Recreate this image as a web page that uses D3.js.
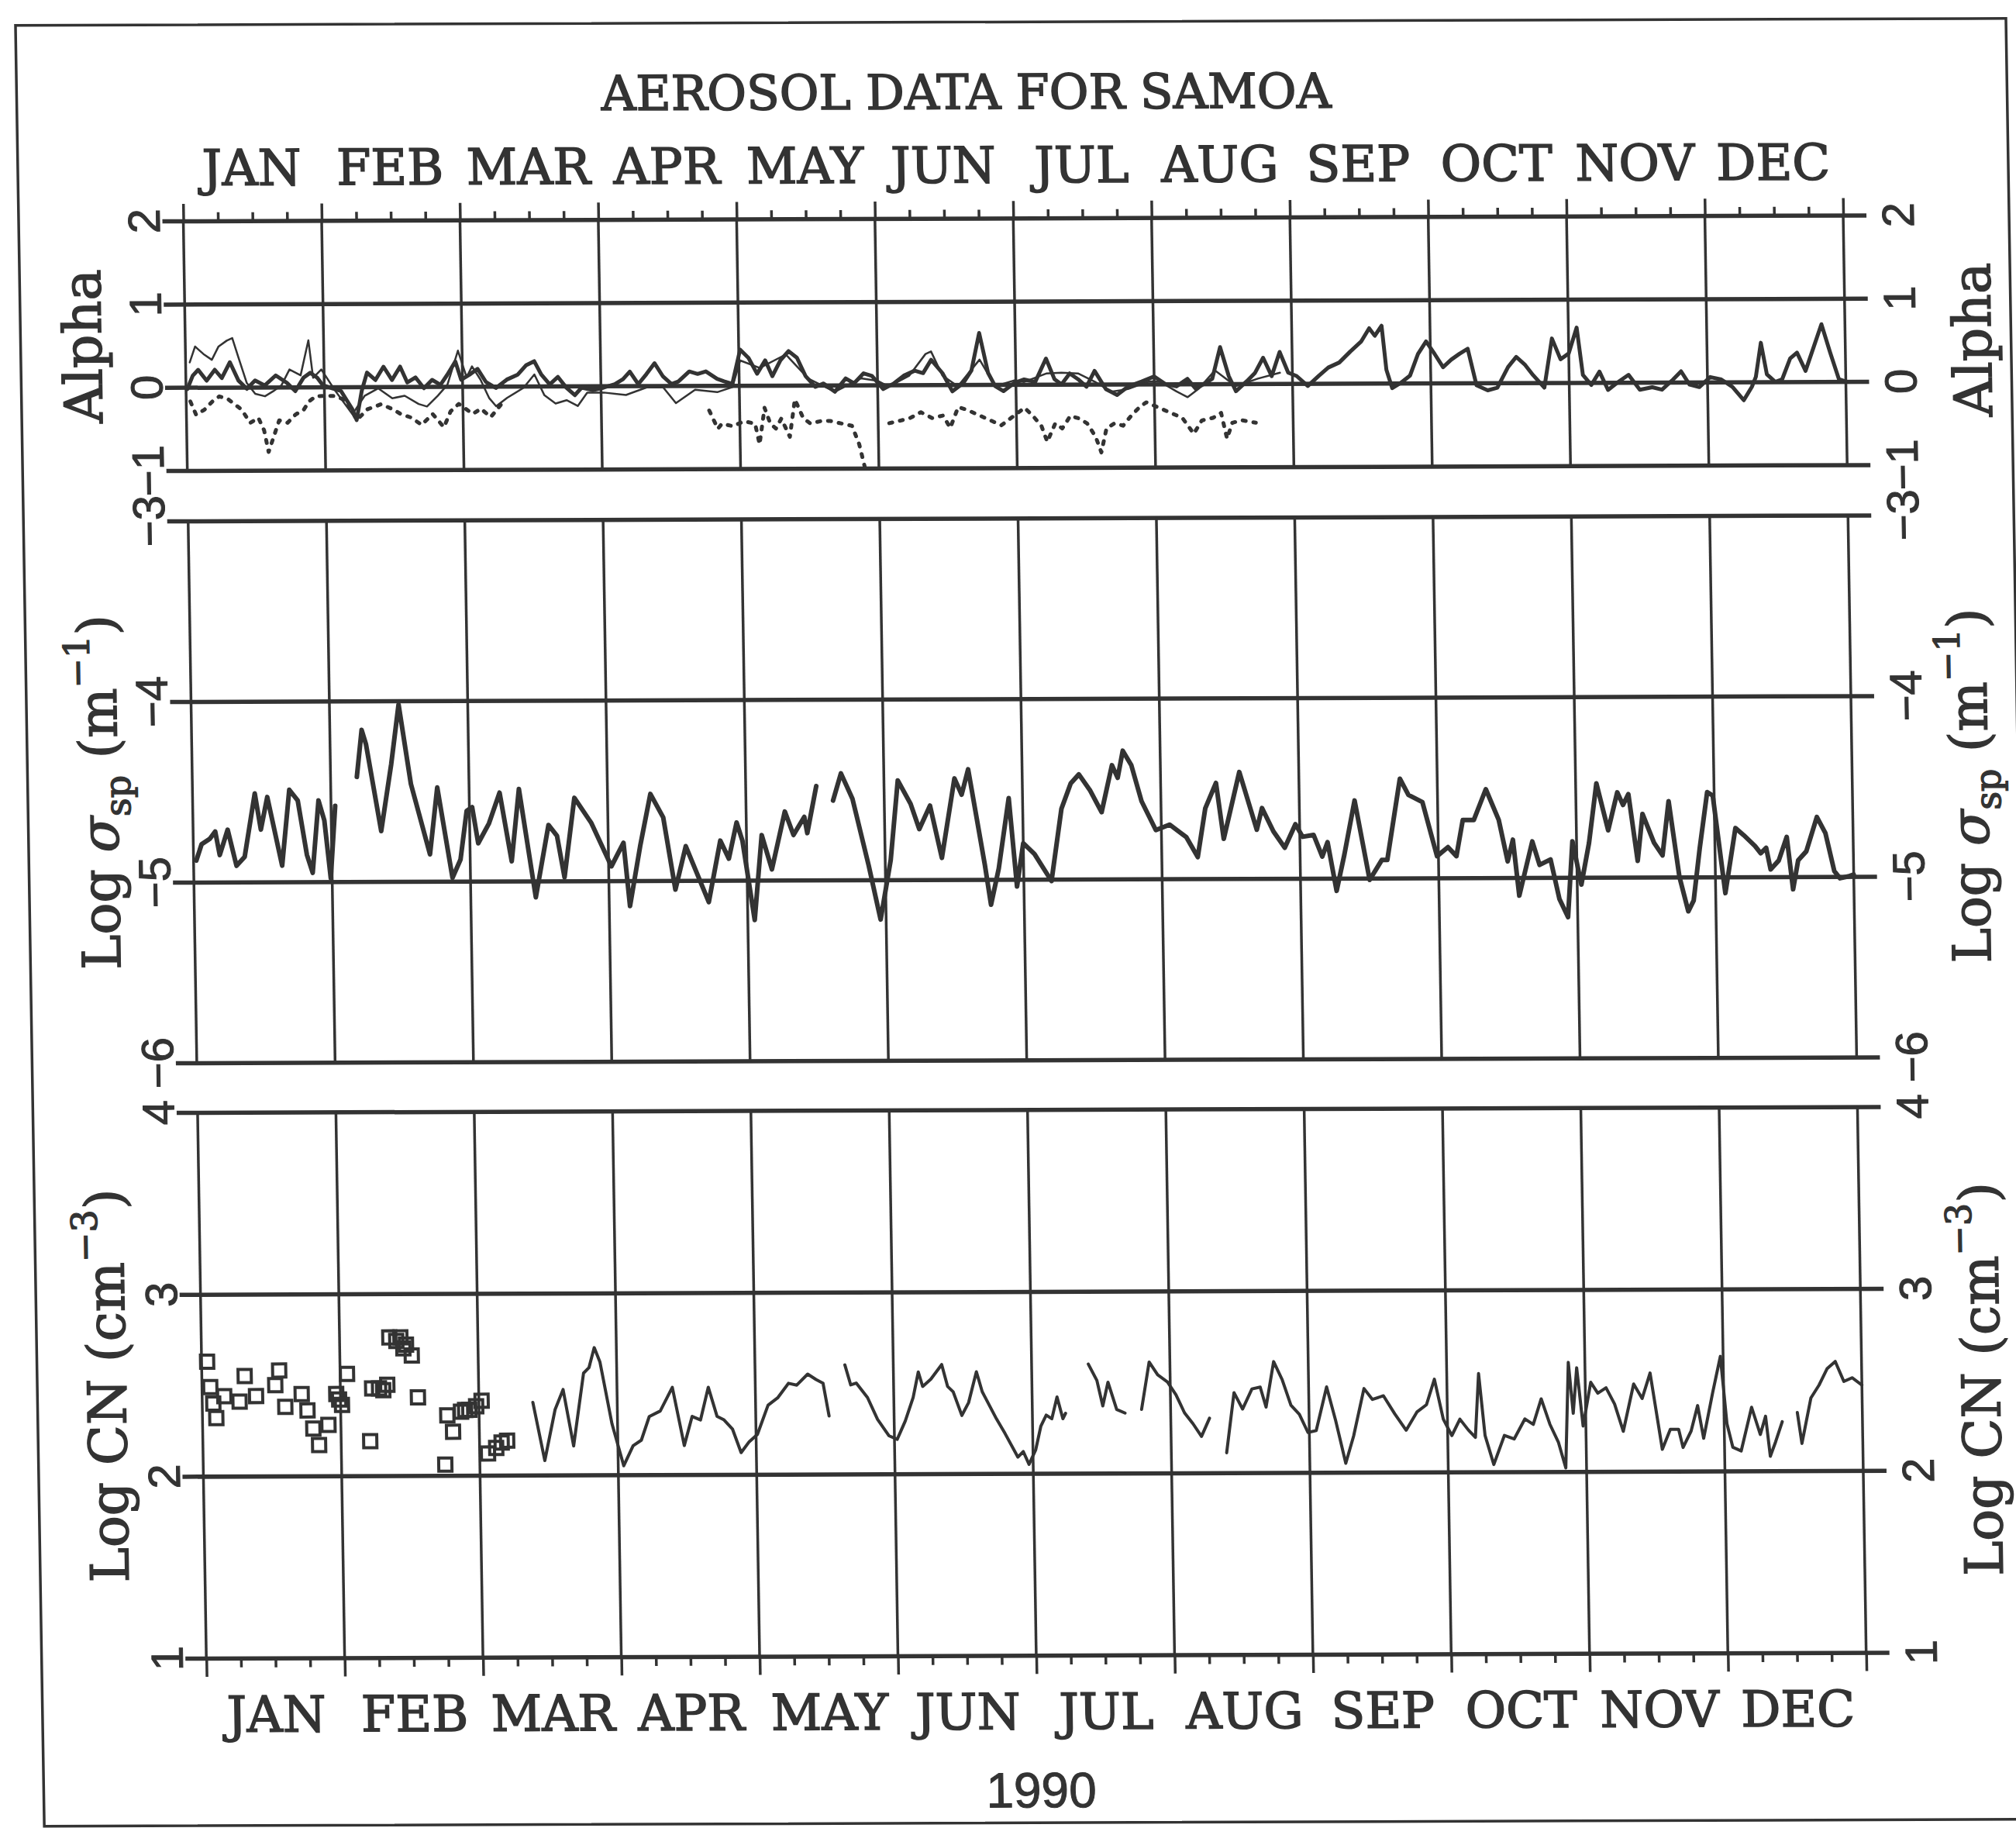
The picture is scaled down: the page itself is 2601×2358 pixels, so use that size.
<!DOCTYPE html>
<html>
<head>
<meta charset="utf-8">
<script src="https://cdn.jsdelivr.net/npm/d3@7"></script>
<style>
  body { margin: 0; background: #fff; }
  svg { display: block; }
</style>
</head>
<body>
<svg width="2601" height="2358"></svg>
<script>
// ---- data (time in months from 1 Jan 1990, value) ----
const months = ["JAN","FEB","MAR","APR","MAY","JUN","JUL","AUG","SEP","OCT","NOV","DEC"];
const yearLabel = "1990";
const title = "AEROSOL DATA FOR SAMOA";
const alphaTicks = [-1, 0, 1, 2];
const sigmaTicks = [-6, -5, -4, -3];
const cnTicks = [1, 2, 3, 4];

// alpha, main solid trace
const alphaSolid = [
 [0.01,-0.02],[0.05,0.14],[0.09,0.21],[0.15,0.08],[0.21,0.21],[0.26,0.11],[0.32,0.30],[0.38,0.08],[0.44,-0.02],[0.50,0.08],[0.57,0.02],[0.65,0.14],[0.73,0.05],[0.79,-0.05],[0.85,0.11],[0.90,0.17],[0.95,0.11],[0.99,0.02],
 [1.06,-0.02],[1.12,-0.05],[1.20,-0.27],[1.23,-0.40],[1.27,-0.05],[1.31,0.17],[1.37,0.08],[1.43,0.24],[1.49,0.08],[1.55,0.24],[1.60,0.05],[1.66,0.11],[1.72,-0.02],[1.78,0.08],[1.84,0.02],[1.89,0.14],[1.95,0.30],[1.99,0.08],
 [2.05,0.14],[2.11,0.21],[2.17,0.05],[2.24,-0.02],[2.32,0.08],[2.40,0.14],[2.46,0.25],[2.52,0.30],[2.57,0.14],[2.63,0.02],[2.69,0.11],[2.75,-0.02],[2.81,-0.11],[2.86,-0.02],[2.94,-0.05],
 [3.02,-0.02],[3.10,0.02],[3.16,0.08],[3.21,0.17],[3.27,0.02],[3.33,0.14],[3.39,0.27],[3.45,0.11],[3.51,0.02],[3.56,0.05],[3.64,0.17],[3.70,0.14],[3.76,0.17],[3.84,0.08],[3.89,0.05],[3.95,0.02],
 [4.01,0.43],[4.07,0.33],[4.13,0.14],[4.19,0.30],[4.24,0.11],[4.30,0.30],[4.36,0.41],[4.42,0.33],[4.48,0.11],[4.55,-0.02],[4.61,0.02],[4.69,-0.08],[4.77,0.08],[4.83,0.02],[4.90,0.14],[4.96,0.11],
 [5.04,-0.05],[5.12,0.02],[5.19,0.11],[5.27,0.17],[5.33,0.14],[5.39,0.30],[5.47,0.14],[5.54,-0.08],[5.62,0.02],[5.68,0.17],[5.74,0.62],[5.80,0.14],[5.85,-0.02],[5.91,-0.08],[5.99,0.02],
 [6.06,0.06],[6.14,0.03],[6.22,0.31],[6.28,0.06],[6.33,0.0],[6.39,0.13],[6.45,0.06],[6.51,-0.03],[6.57,0.16],[6.65,-0.06],[6.73,-0.13],[6.81,-0.03],[6.91,0.03],[7.0,0.09],
 [7.08,0.0],[7.16,-0.03],[7.24,0.06],[7.30,-0.06],[7.36,0.0],[7.42,0.06],[7.48,0.44],[7.54,0.09],[7.59,-0.09],[7.67,0.03],[7.73,0.13],[7.79,0.31],[7.85,0.09],[7.91,0.38],[7.97,0.13],
 [8.03,0.09],[8.11,-0.03],[8.19,0.09],[8.26,0.19],[8.34,0.25],[8.42,0.38],[8.50,0.50],[8.56,0.66],[8.60,0.57],[8.65,0.69],[8.68,0.16],[8.72,-0.06],[8.78,0.0],[8.85,0.09],[8.91,0.35],[8.97,0.50],
 [9.03,0.35],[9.09,0.19],[9.15,0.28],[9.21,0.35],[9.27,0.41],[9.33,-0.03],[9.41,-0.09],[9.48,-0.06],[9.56,0.19],[9.62,0.31],[9.68,0.22],[9.74,0.09],[9.82,-0.06],[9.88,0.53],[9.94,0.28],[10.0,0.35],
 [10.06,0.66],[10.10,0.09],[10.16,-0.03],[10.22,0.13],[10.28,-0.09],[10.35,0.0],[10.43,0.09],[10.51,-0.09],[10.60,-0.06],[10.67,-0.09],[10.75,0.03],[10.81,0.13],[10.87,-0.03],[10.94,-0.06],
 [11.02,0.06],[11.10,0.03],[11.18,-0.06],[11.26,-0.22],[11.32,-0.06],[11.35,0.06],[11.39,0.47],[11.43,0.09],[11.49,0.0],[11.54,0.03],[11.60,0.28],[11.65,0.35],[11.71,0.13],[11.77,0.41],[11.83,0.69],[11.89,0.35],[11.95,0.03],[12.0,0.0]
];

// alpha, thin second trace (Jan - Aug)
const alphaThin = [
 [0.03,0.30],[0.07,0.49],[0.13,0.40],[0.19,0.33],[0.24,0.49],[0.30,0.56],[0.34,0.59],[0.38,0.37],[0.44,0.05],[0.50,-0.08],[0.57,-0.11],[0.63,-0.05],[0.69,0.02],[0.75,0.21],[0.83,0.14],[0.89,0.56],[0.92,0.11],[0.98,0.21],
 [1.08,-0.05],[1.20,-0.33],[1.29,-0.11],[1.39,-0.02],[1.49,-0.14],[1.58,-0.11],[1.68,-0.21],[1.74,-0.24],[1.82,-0.11],[1.89,0.02],[1.97,0.43],[2.03,0.11],
 [2.07,0.24],[2.13,0.08],[2.19,-0.14],[2.24,-0.24],[2.32,-0.14],[2.44,-0.02],[2.52,0.14],[2.59,-0.11],[2.67,-0.21],[2.75,-0.17],[2.83,-0.24],[2.90,-0.08],
 [3.02,-0.08],[3.18,-0.11],[3.33,-0.02],[3.45,-0.02],[3.54,-0.21],[3.68,-0.05],[3.84,-0.08],[3.95,-0.02],
 [4.01,0.30],[4.15,0.21],[4.34,0.37],[4.50,0.08],[4.69,-0.08],[4.88,0.08],[5.00,0.05],
 [5.08,-0.02],[5.23,0.11],[5.35,0.37],[5.39,0.40],[5.47,0.11],[5.58,-0.02],[5.74,0.30],[5.85,-0.02],[5.99,0.05],
 [6.06,0.03],[6.22,0.13],[6.33,0.14],[6.45,0.13],[6.57,0.03],[6.69,-0.09],[6.81,-0.06],[6.96,0.03],
 [7.04,0.03],[7.16,-0.09],[7.24,-0.16],[7.32,-0.06],[7.44,0.16],[7.59,-0.03],[7.75,0.06],[7.91,0.13]
];

// alpha, dotted third trace (Jan - Aug, with gaps)
const alphaDotted = [
 [0.03,-0.17],[0.07,-0.33],[0.13,-0.27],[0.19,-0.17],[0.24,-0.11],[0.30,-0.14],[0.40,-0.27],[0.46,-0.43],[0.52,-0.37],[0.56,-0.52],[0.59,-0.78],[0.63,-0.59],[0.67,-0.40],[0.73,-0.43],[0.79,-0.33],[0.85,-0.27],[0.89,-0.17],[0.94,-0.11],
 [1.08,-0.11],[1.16,-0.17],[1.23,-0.40],[1.31,-0.27],[1.41,-0.21],[1.49,-0.27],[1.55,-0.33],[1.62,-0.37],[1.70,-0.46],[1.78,-0.33],[1.86,-0.49],[1.91,-0.30],[1.97,-0.21],
 [2.07,-0.33],[2.13,-0.27],[2.20,-0.37],[2.28,-0.21],[2.35,null],
 [3.78,-0.30],[3.84,-0.52],[3.87,-0.46],[3.95,-0.49],
 [4.03,-0.43],[4.11,-0.46],[4.14,-0.71],[4.18,-0.27],[4.22,-0.46],[4.26,-0.52],[4.30,-0.40],[4.36,-0.62],[4.40,-0.17],[4.46,-0.40],[4.51,-0.46],[4.59,-0.43],[4.65,-0.43],[4.73,-0.46],[4.81,-0.49],[4.86,-0.71],[4.90,-1.0],[4.95,null],
 [5.08,-0.46],[5.16,-0.43],[5.23,-0.40],[5.31,-0.33],[5.39,-0.40],[5.47,-0.37],[5.52,-0.52],[5.58,-0.27],[5.64,-0.30],[5.89,-0.49],
 [6.06,-0.28],[6.12,-0.38],[6.18,-0.50],[6.22,-0.69],[6.28,-0.47],[6.33,-0.53],[6.39,-0.38],[6.45,-0.41],[6.51,-0.47],[6.57,-0.63],[6.61,-0.82],[6.65,-0.53],[6.71,-0.47],[6.77,-0.50],[6.83,-0.38],[6.89,-0.28],[6.94,-0.22],
 [7.12,-0.35],[7.20,-0.41],[7.28,-0.60],[7.34,-0.44],[7.42,-0.41],[7.48,-0.35],[7.52,-0.66],[7.56,-0.47],[7.63,-0.44],[7.73,-0.47]
];

// log sigma_sp (m^-1)
const sigmaSp = [
 [0.02,-4.88],[0.06,-4.79],[0.12,-4.76],[0.16,-4.72],[0.19,-4.85],[0.25,-4.71],[0.31,-4.91],[0.37,-4.86],[0.45,-4.51],[0.49,-4.71],[0.54,-4.53],[0.64,-4.91],[0.70,-4.49],[0.76,-4.55],[0.82,-4.85],[0.86,-4.95],[0.91,-4.55],[0.95,-4.66],[0.99,-4.98],[1.03,-4.58],[1.08,null],
 [1.19,-4.42],[1.23,-4.16],[1.26,-4.24],[1.36,-4.72],[1.44,-4.35],[1.50,-4.02],[1.58,-4.46],[1.71,-4.85],[1.77,-4.48],[1.87,-4.98],[1.93,-4.88],[1.98,-4.61],[2.02,-4.59],
 [2.06,-4.79],[2.14,-4.68],[2.22,-4.51],[2.30,-4.89],[2.36,-4.49],[2.47,-5.09],[2.57,-4.69],[2.63,-4.75],[2.68,-4.98],[2.76,-4.54],[2.88,-4.68],[3.02,-4.92],
 [3.11,-4.79],[3.15,-5.14],[3.23,-4.81],[3.31,-4.52],[3.40,-4.65],[3.48,-5.05],[3.56,-4.81],[3.72,-5.12],[3.81,-4.78],[3.87,-4.88],[3.93,-4.68],[3.97,-4.78],[4.05,-5.22],
 [4.11,-4.75],[4.18,-4.94],[4.28,-4.62],[4.34,-4.75],[4.42,-4.65],[4.44,-4.74],[4.51,-4.48],[4.57,null],
 [4.63,-4.56],[4.69,-4.41],[4.77,-4.55],[4.88,-4.92],[4.96,-5.22],
 [5.04,-4.89],[5.10,-4.45],[5.19,-4.58],[5.25,-4.72],[5.33,-4.59],[5.41,-4.88],[5.51,-4.44],[5.56,-4.53],[5.61,-4.39],[5.72,-4.92],[5.76,-5.14],[5.82,-4.94],[5.90,-4.55],[5.95,-5.04],
 [6.0,-4.80],[6.08,-4.86],[6.20,-5.01],[6.28,-4.61],[6.35,-4.47],[6.41,-4.42],[6.49,-4.51],[6.57,-4.63],[6.65,-4.37],[6.69,-4.44],[6.73,-4.29],[6.79,-4.37],[6.86,-4.57],[6.96,-4.73],
 [7.06,-4.70],[7.18,-4.77],[7.26,-4.88],[7.32,-4.61],[7.40,-4.47],[7.45,-4.78],[7.57,-4.41],[7.69,-4.73],[7.73,-4.61],[7.81,-4.74],[7.89,-4.83],[7.97,-4.70],
 [8.02,-4.77],[8.10,-4.76],[8.16,-4.88],[8.20,-4.80],[8.26,-5.07],[8.32,-4.87],[8.40,-4.57],[8.50,-5.01],[8.59,-4.90],[8.63,-4.90],[8.73,-4.45],[8.79,-4.54],[8.89,-4.58],[8.99,-4.88],
 [9.07,-4.83],[9.13,-4.88],[9.18,-4.68],[9.26,-4.68],[9.35,-4.51],[9.44,-4.68],[9.50,-4.91],[9.54,-4.79],[9.58,-5.10],[9.68,-4.80],[9.73,-4.93],[9.81,-4.90],[9.87,-5.12],[9.93,-5.22],[9.97,-4.80],
 [10.03,-5.04],[10.09,-4.81],[10.15,-4.48],[10.23,-4.74],[10.30,-4.53],[10.34,-4.60],[10.38,-4.54],[10.44,-4.91],[10.48,-4.65],[10.56,-4.81],[10.62,-4.88],[10.67,-4.58],[10.74,-5.00],[10.80,-5.19],[10.84,-5.13],[10.89,-4.84],[10.95,-4.53],[10.99,-4.55],
 [11.07,-5.09],[11.15,-4.73],[11.21,-4.77],[11.29,-4.83],[11.33,-4.87],[11.37,-4.84],[11.40,-4.96],[11.46,-4.91],[11.52,-4.78],[11.56,-5.07],[11.60,-4.91],[11.66,-4.86],[11.74,-4.67],[11.80,-4.76],[11.86,-4.97],[11.90,-5.01],[11.96,-5.00],[12.0,-4.99]
];

// log CN (cm^-3), early-year open squares
const cnSquares = [
 [0.04,2.63],[0.06,2.49],[0.08,2.40],[0.10,2.32],[0.16,2.44],[0.27,2.41],[0.31,2.55],[0.39,2.44],[0.53,2.50],[0.56,2.58],[0.60,2.38],[0.72,2.45],[0.76,2.36],[0.80,2.26],[0.84,2.17],[0.91,2.28],[0.97,2.45],[0.99,2.42],[1.01,2.39],[1.05,2.56],
 [1.21,2.19],[1.23,2.48],[1.28,2.48],[1.31,2.47],[1.34,2.50],[1.36,2.76],[1.41,2.74],[1.44,2.76],[1.46,2.70],[1.48,2.72],[1.52,2.66],[1.56,2.43],[1.75,2.06],[1.77,2.33],[1.81,2.24],[1.87,2.35],[1.90,2.36],[1.93,2.36],[1.98,2.38],[2.02,2.41],
 [2.06,2.12],[2.12,2.15],[2.16,2.18],[2.20,2.19]
];

// log CN (cm^-3), continuous trace from March
const cnLine = [
 [2.39,2.40],[2.47,2.08],[2.55,2.36],[2.61,2.47],[2.68,2.16],[2.76,2.56],[2.80,2.59],[2.84,2.70],[2.88,2.62],[2.96,2.28],[3.04,2.05],
 [3.11,2.16],[3.17,2.19],[3.23,2.32],[3.31,2.35],[3.40,2.48],[3.48,2.16],[3.54,2.32],[3.60,2.30],[3.66,2.48],[3.72,2.32],[3.77,2.30],[3.83,2.25],[3.89,2.12],[3.95,2.18],[4.01,2.22],
 [4.09,2.38],[4.16,2.42],[4.24,2.50],[4.30,2.49],[4.38,2.55],[4.44,2.52],[4.49,2.50],[4.53,2.32],[4.58,null],
 [4.65,2.60],[4.69,2.49],[4.73,2.50],[4.81,2.42],[4.88,2.30],[4.96,2.21],[5.02,2.19],
 [5.08,2.29],[5.14,2.42],[5.18,2.56],[5.21,2.48],[5.27,2.52],[5.35,2.60],[5.39,2.48],[5.43,2.45],[5.49,2.32],[5.54,2.39],[5.60,2.56],[5.64,2.45],[5.74,2.30],[5.80,2.22],[5.89,2.09],[5.93,2.12],[5.97,2.05],
 [6.02,2.13],[6.06,2.26],[6.10,2.32],[6.14,2.30],[6.18,2.42],[6.22,2.30],[6.24,2.33],[6.30,null],
 [6.41,2.60],[6.47,2.51],[6.51,2.37],[6.55,2.50],[6.61,2.35],[6.67,2.33],[6.72,null],
 [6.79,2.35],[6.85,2.61],[6.91,2.54],[6.98,2.50],[7.04,2.43],[7.10,2.33],[7.16,2.27],[7.22,2.20],[7.28,2.30],[7.34,null],
 [7.40,2.11],[7.46,2.44],[7.52,2.35],[7.59,2.46],[7.65,2.47],[7.69,2.36],[7.75,2.61],[7.81,2.51],[7.87,2.37],[7.93,2.32],[7.99,2.22],
 [8.05,2.23],[8.13,2.47],[8.19,2.29],[8.26,2.05],[8.32,2.20],[8.40,2.46],[8.46,2.40],[8.54,2.42],[8.62,2.32],[8.70,2.23],[8.78,2.33],[8.85,2.37],[8.91,2.51],[8.97,2.29],
 [9.03,2.20],[9.09,2.29],[9.15,2.23],[9.20,2.19],[9.23,2.54],[9.27,2.20],[9.33,2.04],[9.41,2.20],[9.48,2.18],[9.56,2.29],[9.62,2.26],[9.68,2.40],[9.74,2.26],[9.80,2.16],[9.85,2.02],[9.88,2.60],[9.91,2.32],[9.94,2.57],[9.98,2.25],
 [10.04,2.49],[10.09,2.43],[10.15,2.46],[10.21,2.37],[10.27,2.22],[10.35,2.48],[10.41,2.40],[10.47,2.54],[10.55,2.12],[10.61,2.23],[10.67,2.23],[10.70,2.13],[10.76,2.22],[10.81,2.36],[10.85,2.18],[10.92,2.43],[10.98,2.63],
 [11.02,2.26],[11.06,2.13],[11.12,2.11],[11.20,2.35],[11.26,2.20],[11.30,2.30],[11.33,2.08],[11.37,2.16],[11.42,2.27],[11.48,null],
 [11.53,2.32],[11.56,2.15],[11.63,2.40],[11.69,2.47],[11.75,2.56],[11.81,2.60],[11.87,2.49],[11.93,2.51],[12.0,2.47]
];

// ---- drawing ----
const ink = "#333";
const svg = d3.select("svg");
svg.append("rect").attr("width", 2601).attr("height", 2358).attr("fill", "#fff");

// the scanned page is slightly sheared; reproduce that with one matrix
const g = svg.append("g").attr("transform", "matrix(1,-0.0035,0.016,1,-4.53,0.84)");

// outer frame
g.append("rect").attr("x", 24).attr("y", 32).attr("width", 2568).attr("height", 2323)
  .attr("fill", "none").attr("stroke", ink).attr("stroke-width", 3.5);

const x = d3.scaleLinear().domain([0, 12]).range([236.5, 2378]);
const xm = d3.scaleBand().domain(months).range(x.range());
const serif = "'DejaVu Serif', 'Liberation Serif', serif";
const sans = "'Liberation Sans', Arial, sans-serif";

const panels = [
  { ticks: alphaTicks, y: d3.scaleLinear().domain([-1, 2]).range([607, 285]) },
  { ticks: sigmaTicks, y: d3.scaleLinear().domain([-6, -3]).range([1371, 672]) },
  { ticks: cnTicks, y: d3.scaleLinear().domain([1, 4]).range([2139, 1435]) }
];

const fmt = d => d < 0 ? "\u2212" + Math.abs(d) : String(d);

panels.forEach(p => {
  const [yb, yt] = p.y.range();
  const gp = g.append("g");
  // horizontal grid lines that stick out on both sides as ticks
  gp.append("g")
    .attr("transform", "translate(" + (x.range()[0] - 27) + ",0)")
    .call(d3.axisLeft(p.y).tickValues(p.ticks).tickSize(-(x.range()[1] - x.range()[0] + 57)).tickFormat(""))
    .call(a => a.select(".domain").remove())
    .selectAll("line").attr("stroke", ink).attr("stroke-width", 5.5);
  // month boundaries
  gp.selectAll(".mline").data(d3.range(13)).join("line")
    .attr("x1", d => x(d)).attr("x2", d => x(d))
    .attr("y1", yt).attr("y2", yb)
    .attr("stroke", ink).attr("stroke-width", 3.5);
  // tick numbers, rotated, on both sides
  [186, 2449].forEach(cx => {
    gp.append("g").selectAll("text").data(p.ticks).join("text")
      .attr("transform", d => "translate(" + (cx + 20) + "," + p.y(d) + ") rotate(-90)")
      .attr("text-anchor", "middle")
      .attr("font-family", sans).attr("font-size", 58).attr("fill", ink)
      .attr("stroke", ink).attr("stroke-width", 1)
      .text(fmt);
  });
});

// month ticks above the top panel and below the bottom panel
const quarterTicks = d3.range(0, 12.001, 0.25);
g.append("g").attr("transform", "translate(0," + panels[0].y(2) + ")")
  .call(d3.axisTop(x).tickValues(quarterTicks).tickFormat(""))
  .call(a => a.select(".domain").remove())
  .selectAll("line").attr("stroke", ink).attr("stroke-width", 3.5)
  .attr("y2", d => Number.isInteger(d) ? -22 : -11);
g.append("g").attr("transform", "translate(0," + panels[2].y(1) + ")")
  .call(d3.axisBottom(x).tickValues(quarterTicks).tickFormat(""))
  .call(a => a.select(".domain").remove())
  .selectAll("line").attr("stroke", ink).attr("stroke-width", 3.5)
  .attr("y2", d => Number.isInteger(d) ? 24 : 12);

// month names
[239, 2234].forEach(yy => {
  g.append("g").selectAll("text").data(months).join("text")
    .attr("x", d => xm(d) + xm.bandwidth() / 2).attr("y", yy)
    .attr("text-anchor", "middle")
    .attr("font-family", serif).attr("font-size", 64).attr("fill", ink)
    .attr("stroke", ink).attr("stroke-width", 1.6)
    .text(d => d);
});

g.append("text").attr("x", 1249).attr("y", 144).attr("text-anchor", "middle")
  .attr("font-family", serif).attr("font-size", 62).attr("fill", ink)
  .attr("stroke", ink).attr("stroke-width", 1.6).text(title);
g.append("text").attr("x", 1311).attr("y", 2335).attr("text-anchor", "middle")
  .attr("font-family", sans).attr("font-size", 64).attr("fill", ink)
  .attr("stroke", ink).attr("stroke-width", 1).text(yearLabel);

// axis titles (rotated, read bottom to top, on both sides)
function yTitle(cx, cy, parts) {
  const t = g.append("text")
    .attr("transform", "translate(" + cx + "," + cy + ") rotate(-90)")
    .attr("text-anchor", "middle")
    .attr("font-family", serif).attr("font-size", 68).attr("fill", ink)
    .attr("stroke", ink).attr("stroke-width", 1.4);
  parts.forEach(pt => {
    const s = t.append("tspan").text(pt.t);
    if (pt.dy) s.attr("dy", pt.dy);
    if (pt.fs) s.attr("font-size", pt.fs);
    if (pt.it) s.attr("font-style", "italic");
  });
}
const alphaTitle = [{ t: "Alpha" }];
const sigmaTitle = [{ t: "Log " }, { t: "\u03c3", it: true }, { t: "sp", fs: 46, dy: 16 }, { t: " (m", dy: -16 }, { t: "\u22121", fs: 46, dy: -34 }, { t: ")", dy: 34 }];
const cnTitle = [{ t: "Log CN (cm" }, { t: "\u22123", fs: 46, dy: -34 }, { t: ")", dy: 34 }];
yTitle(128, panels[0].y(0.5), alphaTitle);
yTitle(140, panels[1].y(-4.5), sigmaTitle);
yTitle(138, panels[2].y(2.5), cnTitle);
yTitle(2566, panels[0].y(0.5), alphaTitle);
yTitle(2553, panels[1].y(-4.5), sigmaTitle);
yTitle(2556, panels[2].y(2.5), cnTitle);

// ---- data marks ----
function trace(p, data, width, dash) {
  const line = d3.line().defined(d => d[1] !== null)
    .x(d => x(d[0])).y(d => p.y(d[1]));
  const path = g.append("path").datum(data).attr("d", line)
    .attr("fill", "none").attr("stroke", ink).attr("stroke-width", width)
    .attr("stroke-linejoin", "round").attr("stroke-linecap", "round");
  if (dash) path.attr("stroke-dasharray", dash);
}
trace(panels[0], alphaDotted, 5, "4,10");
trace(panels[0], alphaThin, 2.5);
trace(panels[0], alphaSolid, 5);
trace(panels[1], sigmaSp, 6);
trace(panels[2], cnLine, 4);

const sq = 17;
g.append("g").selectAll("rect").data(cnSquares).join("rect")
  .attr("x", d => x(d[0]) - sq / 2).attr("y", d => panels[2].y(d[1]) - sq / 2)
  .attr("width", sq).attr("height", sq)
  .attr("fill", "none").attr("stroke", ink).attr("stroke-width", 4);
</script>
</body>
</html>
